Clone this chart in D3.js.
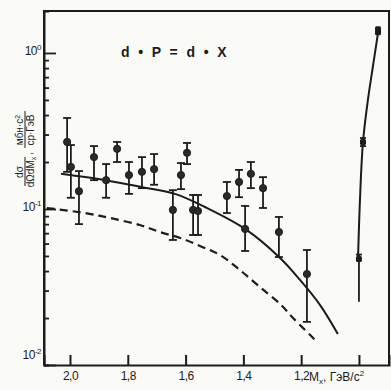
<!DOCTYPE html>
<html><head><meta charset="utf-8">
<script src="https://cdn.jsdelivr.net/npm/d3@7/dist/d3.min.js"></script>
<style>body{margin:0;background:#fafaf6}svg{display:block}</style>
</head><body><svg id="c" width="391" height="390"></svg>
<script>
// Data points: M_x (GeV/c^2), cross-section, error bar low/high
const massPts  = [2.010,1.997,1.969,1.917,1.875,1.837,1.796,1.751,1.709,1.644,1.616,1.595,1.574,1.557,1.457,1.415,1.374,1.332,1.394,1.277,1.180];
const sigmaPts = [0.269,0.186,0.130,0.215,0.153,0.243,0.165,0.173,0.180,0.0986,0.165,0.229,0.0986,0.0971,0.121,0.149,0.168,0.136,0.0745,0.0712,0.0383];
const errLow   = [0.173,0.118,0.080,0.153,0.118,0.200,0.125,0.136,0.143,0.0633,0.134,0.194,0.0681,0.0681,0.0942,0.119,0.136,0.1015,0.0538,0.0492,0.0189];
const errHigh  = [0.383,0.257,0.175,0.253,0.194,0.269,0.200,0.215,0.225,0.132,0.197,0.265,0.123,0.123,0.149,0.178,0.200,0.160,0.1046,0.0889,0.0546];
// Solid fit curve
const fitMass  = [2.031,1.879,1.751,1.637,1.533,1.394,1.273,1.204,1.135,1.073];
const fitSigma = [0.168,0.153,0.138,0.125,0.103,0.0745,0.0485,0.0351,0.0243,0.0158];
// Dashed curve
const dashMass  = [2.080,1.948,1.862,1.758,1.689,1.619,1.550,1.481,1.412,1.343,1.273,1.228,1.152];
const dashSigma = [0.1015,0.0942,0.0876,0.0789,0.0712,0.0652,0.0579,0.0507,0.0406,0.0316,0.0246,0.0200,0.0145];
// Elastic peak curve and points
const peakCurveMass  = [1.0035,0.9965,0.986,0.969,0.952,0.934];
const peakCurveSigma = [0.0457,0.114,0.269,0.500,0.813,1.344];
const peakMass  = [0.934,0.986,1.000];
const peakSigma = [1.38,0.269,0.0478];
const peakLow   = [1.38,0.253,0.0254];
const peakHigh  = [1.38,0.285,0.0510];
// Axis ticks
const xTicks = [2.0,1.8,1.6,1.4,1.2,1.0];
const xTickLabels = ["2,0","1,8","1,6","1,4","1,2",""];
const yMajor = [1,0.1,0.01];
const yMajorExp = ["0","-1","-2"];

const ink = "#1c1c1c";
const svg = d3.select("#c");
const L=44, T=11, R=389, B=365;
const x = d3.scaleLinear().domain([2.09,0.896]).range([L,R]);
const y = d3.scaleLog().domain([0.01,1.858]).range([B,T]);

svg.append("rect").attr("width",391).attr("height",390).attr("fill","#fafaf6");

// frame
svg.append("path").attr("d",`M${L},${B}V${T}H${R}V${B}`).attr("fill","none").attr("stroke",ink).attr("stroke-width",2);

// x axis
const xa = svg.append("g").attr("transform",`translate(0,${B})`)
  .call(d3.axisBottom(x).tickValues(xTicks).tickSize(-10).tickPadding(6)
    .tickFormat((d,i)=>xTickLabels[i]));
xa.select(".domain").attr("stroke",ink).attr("stroke-width",2);
xa.selectAll(".tick line").attr("stroke",ink).attr("stroke-width",2);
xa.selectAll(".tick text").attr("fill",ink).attr("font-family","Liberation Sans, Arial, sans-serif")
  .attr("font-size",12).attr("letter-spacing","-0.5");

const xl = svg.append("text").attr("x",309).attr("y",381).attr("fill",ink)
  .attr("font-family","Liberation Sans, Arial, sans-serif").attr("font-size",12);
xl.append("tspan").text("M");
xl.append("tspan").attr("font-size",8).attr("dy",3).text("x");
xl.append("tspan").attr("dy",-3).text(", ГэВ/c");
xl.append("tspan").attr("font-size",8).attr("dy",-5).text("2");

// y axis
const yTickVals = [];
[0.01,0.1,1].forEach(b=>{for(let k=1;k<10;k++){const v=b*k; if(v<=1.858) yTickVals.push(v);}});
const ya = svg.append("g").attr("transform",`translate(${L},0)`)
  .call(d3.axisLeft(y).tickValues(yTickVals).tickSize(-5).tickFormat(""));
ya.select(".domain").attr("stroke",ink).attr("stroke-width",2);
ya.selectAll(".tick line").attr("stroke",ink).attr("stroke-width",1.8)
  .attr("x2",d=>yMajor.includes(+d.toPrecision(3))?12:5);

const yl = svg.selectAll(".ylab").data(yMajor).join("text")
  .attr("class","ylab").attr("x",L-3).attr("y",(d,i)=>y(d)+(i===2?-6:2))
  .attr("text-anchor","end").attr("fill",ink)
  .attr("font-family","Liberation Sans, Arial, sans-serif").attr("font-size",12).attr("letter-spacing","-0.5");
yl.append("tspan").text("10");
yl.append("tspan").attr("font-size",8).attr("dy",-5).text((d,i)=>yMajorExp[i]);

// y title (rotated)
const yt = svg.append("g").attr("transform","translate(26,188) rotate(-90)")
  .attr("fill",ink).attr("font-family","Liberation Sans, Arial, sans-serif").attr("font-size",10);
yt.append("text").attr("x",16).attr("y",-3).attr("text-anchor","middle").text("dσ");
yt.append("line").attr("x1",2).attr("x2",31).attr("y1",-1).attr("y2",-1).attr("stroke",ink).attr("stroke-width",1);
const den = yt.append("text").attr("x",16).attr("y",8).attr("text-anchor","middle");
den.append("tspan").text("dΩdM");
den.append("tspan").attr("font-size",7).attr("dy",2).text("x");
yt.append("text").attr("x",33).attr("y",6).text(",");
const num2 = yt.append("text").attr("x",58).attr("y",-3).attr("text-anchor","middle");
num2.append("tspan").text("мбн·c");
num2.append("tspan").attr("font-size",7).attr("dy",-3).text("2");
yt.append("line").attr("x1",40).attr("x2",77).attr("y1",-1).attr("y2",-1).attr("stroke",ink).attr("stroke-width",1);
yt.append("text").attr("x",58).attr("y",8).attr("text-anchor","middle").text("ср·ГэВ");

// title
svg.append("text").attr("x",121).attr("y",57).attr("fill",ink)
  .attr("font-family","Liberation Sans, Arial, sans-serif").attr("font-size",14).attr("font-weight","bold")
  .attr("letter-spacing","2.4").attr("xml:space","preserve").text("d • P = d • X");

// curves
const line = d3.line().x(d=>x(d[0])).y(d=>y(d[1])).curve(d3.curveCatmullRom);
svg.append("path").attr("d",line(d3.zip(fitMass,fitSigma))).attr("fill","none").attr("stroke",ink).attr("stroke-width",2);
svg.append("path").attr("d",line(d3.zip(dashMass,dashSigma))).attr("fill","none").attr("stroke",ink)
  .attr("stroke-width",2.2).attr("stroke-dasharray","8,5");
svg.append("path").attr("d",line(d3.zip(peakCurveMass,peakCurveSigma))).attr("fill","none").attr("stroke",ink).attr("stroke-width",2);

// error bars + points
const pts = massPts.map((m,i)=>({m,s:sigmaPts[i],lo:errLow[i],hi:errHigh[i]}));
const g = svg.append("g").attr("stroke",ink).attr("stroke-width",1.8);
pts.forEach(p=>{
  const px=x(p.m);
  g.append("line").attr("x1",px).attr("x2",px).attr("y1",y(p.lo)).attr("y2",y(p.hi));
  g.append("line").attr("x1",px-4).attr("x2",px+4).attr("y1",y(p.lo)).attr("y2",y(p.lo));
  g.append("line").attr("x1",px-4).attr("x2",px+4).attr("y1",y(p.hi)).attr("y2",y(p.hi));
});
svg.selectAll(".pt").data(pts).join("circle").attr("class","pt")
  .attr("cx",d=>x(d.m)).attr("cy",d=>y(d.s)).attr("r",3.6).attr("fill","#2a2a2a").attr("stroke",ink).attr("stroke-width",1);

// peak points
const pk = peakMass.map((m,i)=>({m,s:peakSigma[i],lo:peakLow[i],hi:peakHigh[i]}));
pk.forEach((p,i)=>{
  const px=x(p.m);
  if(i>0){
    g.append("line").attr("x1",px).attr("x2",px).attr("y1",y(p.lo)).attr("y2",y(p.hi));
    g.append("line").attr("x1",px-3).attr("x2",px+3).attr("y1",y(p.hi)).attr("y2",y(p.hi));
    if(i===1) g.append("line").attr("x1",px-3).attr("x2",px+3).attr("y1",y(p.lo)).attr("y2",y(p.lo));
  }
  svg.append("rect").attr("x",px-3).attr("y",y(p.s)-(i===0?5:3)).attr("width",6).attr("height",i===0?9:6)
    .attr("rx",1.5).attr("fill",ink);
});
</script></body></html>
